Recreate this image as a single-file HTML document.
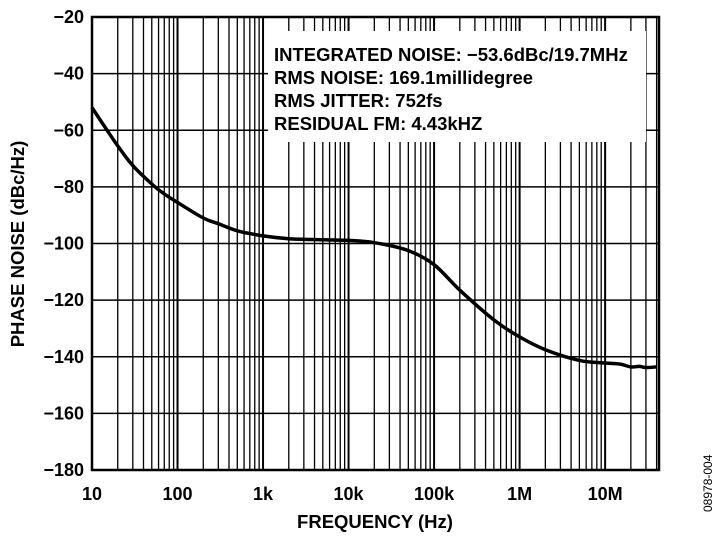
<!DOCTYPE html>
<html><head><meta charset="utf-8"><style>
body{margin:0;background:#fff;}
svg text{font-family:"Liberation Sans",Arial,sans-serif;font-weight:bold;fill:#000;}
</style></head><body>
<svg id="chart" width="719" height="543" xmlns="http://www.w3.org/2000/svg">
<g id="grid"></g>
<rect x="268" y="31" width="378" height="111" fill="#fff"/>
<g font-size="18.5">
<text x="274" y="61">INTEGRATED NOISE: −53.6dBc/19.7MHz</text>
<text x="274" y="84">RMS NOISE: 169.1millidegree</text>
<text x="274" y="107">RMS JITTER: 752fs</text>
<text x="274" y="130">RESIDUAL FM: 4.43kHZ</text>
</g>
<g id="axes"></g>
<path id="curve" fill="none" stroke="#000" stroke-width="3.5" stroke-linejoin="round"/>
<text x="375" y="528" font-size="18.5" text-anchor="middle">FREQUENCY (Hz)</text>
<text transform="translate(24,244) rotate(-90)" font-size="18.5" text-anchor="middle">PHASE NOISE (dBc/Hz)</text>
<text transform="translate(712,512) rotate(-90)" font-size="12" style="font-weight:normal">08978-004</text>
</svg>
<script>
const freqs=[10,15,20,30,50,70,100,200,300,500,1e3,2e3,5e3,1e4,2e4,5e4,1e5,2e5,5e5,1e6,2e6,5e6,1e7,1.5e7,2e7,2.5e7,3e7,4e7];
const noise=[-52,-60,-65.5,-72.5,-79,-82.5,-85.5,-91,-93,-95.5,-97.3,-98.3,-98.7,-98.9,-99.7,-102.5,-107.5,-116.5,-127,-133,-137.5,-141.3,-142.2,-142.6,-143.6,-143.4,-143.8,-143.6];
const yTicks=[-20,-40,-60,-80,-100,-120,-140,-160,-180];
const xTickVals=[10,100,1e3,1e4,1e5,1e6,1e7];
const xTickLabels=["10","100","1k","10k","100k","1M","10M"];
const L=92,R=659,T=17,B=470,lmin=1,lmax=7.63;
const X=f=>L+(Math.log10(f)-lmin)/(lmax-lmin)*(R-L);
const Y=v=>T+(-20-v)/160*(B-T);
const NS="http://www.w3.org/2000/svg";
const grid=document.getElementById('grid'),axes=document.getElementById('axes');
function mk(p,tag,a){const e=document.createElementNS(NS,tag);for(const k in a)e.setAttribute(k,a[k]);p.appendChild(e);return e;}
for(let d=1;d<8;d++)for(let m=1;m<10;m++){const f=m*Math.pow(10,d);if(Math.log10(f)>lmax||Math.log10(f)<=lmin)continue;
const ln=mk(grid,'line',{x1:X(f),x2:X(f),y1:T,y2:B,stroke:'#000','stroke-width':m==1?2:1.3});

}
yTicks.forEach(v=>{const ln=mk(grid,'line',{x1:L,x2:R,y1:Y(v),y2:Y(v),stroke:'#000','stroke-width':1.5});


const t=mk(axes,'text',{x:L-8,y:Y(v)+6,'text-anchor':'end','font-size':18});t.textContent=(v<0?'−':'')+Math.abs(v);

});
xTickVals.forEach((f,i)=>{const t=mk(axes,'text',{x:X(f),y:500,'text-anchor':'middle','font-size':18});t.textContent=xTickLabels[i];

});
const fr=mk(axes,'rect',{x:L,y:T,width:R-L,height:B-T,fill:'none',stroke:'#000','stroke-width':2.5});


const pts=freqs.map((f,i)=>[X(f),Y(noise[i])]);
let d='M'+pts[0][0].toFixed(1)+','+pts[0][1].toFixed(1);
for(let i=0;i<pts.length-1;i++){const p0=pts[Math.max(0,i-1)],p1=pts[i],p2=pts[i+1],p3=pts[Math.min(pts.length-1,i+2)];
const c1=[p1[0]+(p2[0]-p0[0])/6,p1[1]+(p2[1]-p0[1])/6],c2=[p2[0]-(p3[0]-p1[0])/6,p2[1]-(p3[1]-p1[1])/6];
d+='C'+c1.map(v=>v.toFixed(1)).join(',')+' '+c2.map(v=>v.toFixed(1)).join(',')+' '+p2.map(v=>v.toFixed(1)).join(',');}
document.getElementById('curve').setAttribute('d',d);
</script>
</body></html>
